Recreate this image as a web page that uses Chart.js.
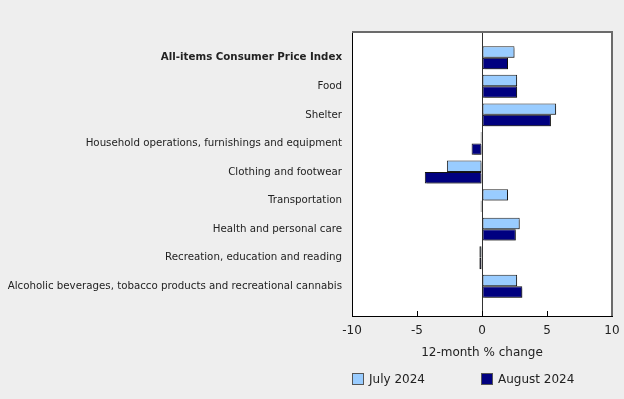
<!DOCTYPE html>
<html>
<head>
<meta charset="utf-8">
<script src="https://cdn.jsdelivr.net/npm/chart.js@4"></script>
<style>
body { margin: 0; background: #eeeeee; }
#wrap { position: relative; width: 624px; height: 399px; }
#legend { position: absolute; top: 371px; left: 0; width: 624px; height: 16px; font: 12px "DejaVu Sans", sans-serif; color: #222; }
.item { position: absolute; top: 0; height: 16px; display: flex; align-items: center; }
.box { width: 10px; height: 10px; border: 1px solid #555; margin-right: 5px; }
</style>
</head>
<body>
<div id="wrap">
  <canvas id="cpi" width="624" height="399"></canvas>
  <div id="legend"></div>
</div>
<script>
var categories = [
  'All-items Consumer Price Index',
  'Food',
  'Shelter',
  'Household operations, furnishings and equipment',
  'Clothing and footwear',
  'Transportation',
  'Health and personal care',
  'Recreation, education and reading',
  'Alcoholic beverages, tobacco products and recreational cannabis'
];
var july2024 = [2.5, 2.7, 5.7, -0.1, -2.7, 2.0, 2.9, -0.2, 2.7];
var august2024 = [2.0, 2.7, 5.3, -0.8, -4.4, -0.1, 2.6, -0.2, 3.1];
var xTicks = [-10, -5, 0, 5, 10];

var font = '"DejaVu Sans", sans-serif';

function points(arr) {
  return arr.map(function (v, i) { return { x: v, y: i }; });
}

// white plot area, grey top/right frame, bar shadows, inward tick marks
var frame = {
  id: 'frame',
  beforeDraw: function (chart) {
    var a = chart.chartArea, c = chart.ctx;
    c.save();
    c.fillStyle = '#ffffff';
    c.fillRect(a.left, a.top, a.right - a.left, a.bottom - a.top);
    c.restore();
  },
  beforeDatasetsDraw: function (chart) {
    var c = chart.ctx;
    c.save();
    c.shadowColor = 'rgba(0,0,0,0.3)';
    c.shadowOffsetX = 2;
    c.shadowOffsetY = 2;
    c.shadowBlur = 0;
  },
  afterDatasetsDraw: function (chart) {
    chart.ctx.restore();
  },
  afterDraw: function (chart) {
    var a = chart.chartArea, c = chart.ctx, sx = chart.scales.x;
    c.save();
    c.strokeStyle = '#000';
    c.lineWidth = 1;
    sx.ticks.forEach(function (t, i) {
      var px = Math.round(sx.getPixelForTick(i)) + 0.5;
      c.beginPath();
      c.moveTo(px, a.bottom);
      c.lineTo(px, a.bottom - 5);
      c.stroke();
    });
    c.strokeStyle = '#6b6b6b';
    c.lineWidth = 2;
    c.beginPath();
    c.moveTo(a.left, a.top);
    c.lineTo(a.right, a.top);
    c.lineTo(a.right, a.bottom);
    c.stroke();
    c.restore();
  }
};

var ctx_cpi = document.getElementById('cpi').getContext('2d');
var cpiGraph = new Chart(ctx_cpi, {
  type: 'bar',
  data: {
    datasets: [{
      label: 'July 2024',
      data: points(july2024),
      backgroundColor: '#99ccff',
      borderColor: '#222222',
      borderWidth: 1,
      borderSkipped: false
    }, {
      label: 'August 2024',
      data: points(august2024),
      backgroundColor: '#000080',
      borderColor: '#111111',
      borderWidth: 1,
      borderSkipped: false
    }]
  },
  options: {
    indexAxis: 'y',
    responsive: false,
    animation: false,
    categoryPercentage: 0.8,
    barPercentage: 1.0,
    layout: { padding: { top: 32, right: 12, left: 0, bottom: 0 } },
    plugins: {
      legend: { display: false },
      tooltip: { enabled: false }
    },
    scales: {
      y: {
        type: 'linear',
        reverse: true,
        offset: false,
        min: -0.9,
        max: 9.04,
        afterBuildTicks: function (axis) {
          axis.ticks = categories.map(function (c, i) { return { value: i }; });
        },
        afterFit: function (axis) { axis.width = 352; axis.paddingTop = 0; axis.paddingBottom = 0; },
        grid: { display: false, drawTicks: false, offset: false },
        border: { display: true, color: '#000', width: 1 },
        ticks: {
          padding: 10,
          color: '#222',
          font: function (c) {
            return { family: font, size: 10.25, weight: c.index === 0 ? 'bold' : 'normal' };
          },
          callback: function (v) { return categories[v]; }
        }
      },
      x: {
        type: 'linear',
        min: xTicks[0],
        max: xTicks[xTicks.length - 1],
        afterBuildTicks: function (axis) {
          axis.ticks = xTicks.map(function (v) { return { value: v }; });
        },
        afterFit: function (axis) { axis.height = 83; axis.paddingLeft = 0; axis.paddingRight = 0; },
        grid: {
          drawTicks: false,
          color: function (c) { return c.tick && c.tick.value === 0 ? '#333' : 'rgba(0,0,0,0)'; }
        },
        border: { display: true, color: '#000', width: 1 },
        ticks: {
          padding: 8,
          color: '#222',
          font: { family: font, size: 12 }
        },
        title: {
          display: true,
          text: '12-month % change',
          color: '#222',
          font: { family: font, size: 12 },
          padding: { top: 0, bottom: 39 }
        }
      }
    }
  },
  plugins: [frame]
});

// legend built from the datasets
var legend = document.getElementById('legend');
var legendLeft = [352, 481];
cpiGraph.data.datasets.forEach(function (ds, i) {
  var item = document.createElement('div');
  item.className = 'item';
  item.style.left = legendLeft[i] + 'px';
  var box = document.createElement('span');
  box.className = 'box';
  box.style.background = ds.backgroundColor;
  item.appendChild(box);
  item.appendChild(document.createTextNode(ds.label));
  legend.appendChild(item);
});
</script>
</body>
</html>
